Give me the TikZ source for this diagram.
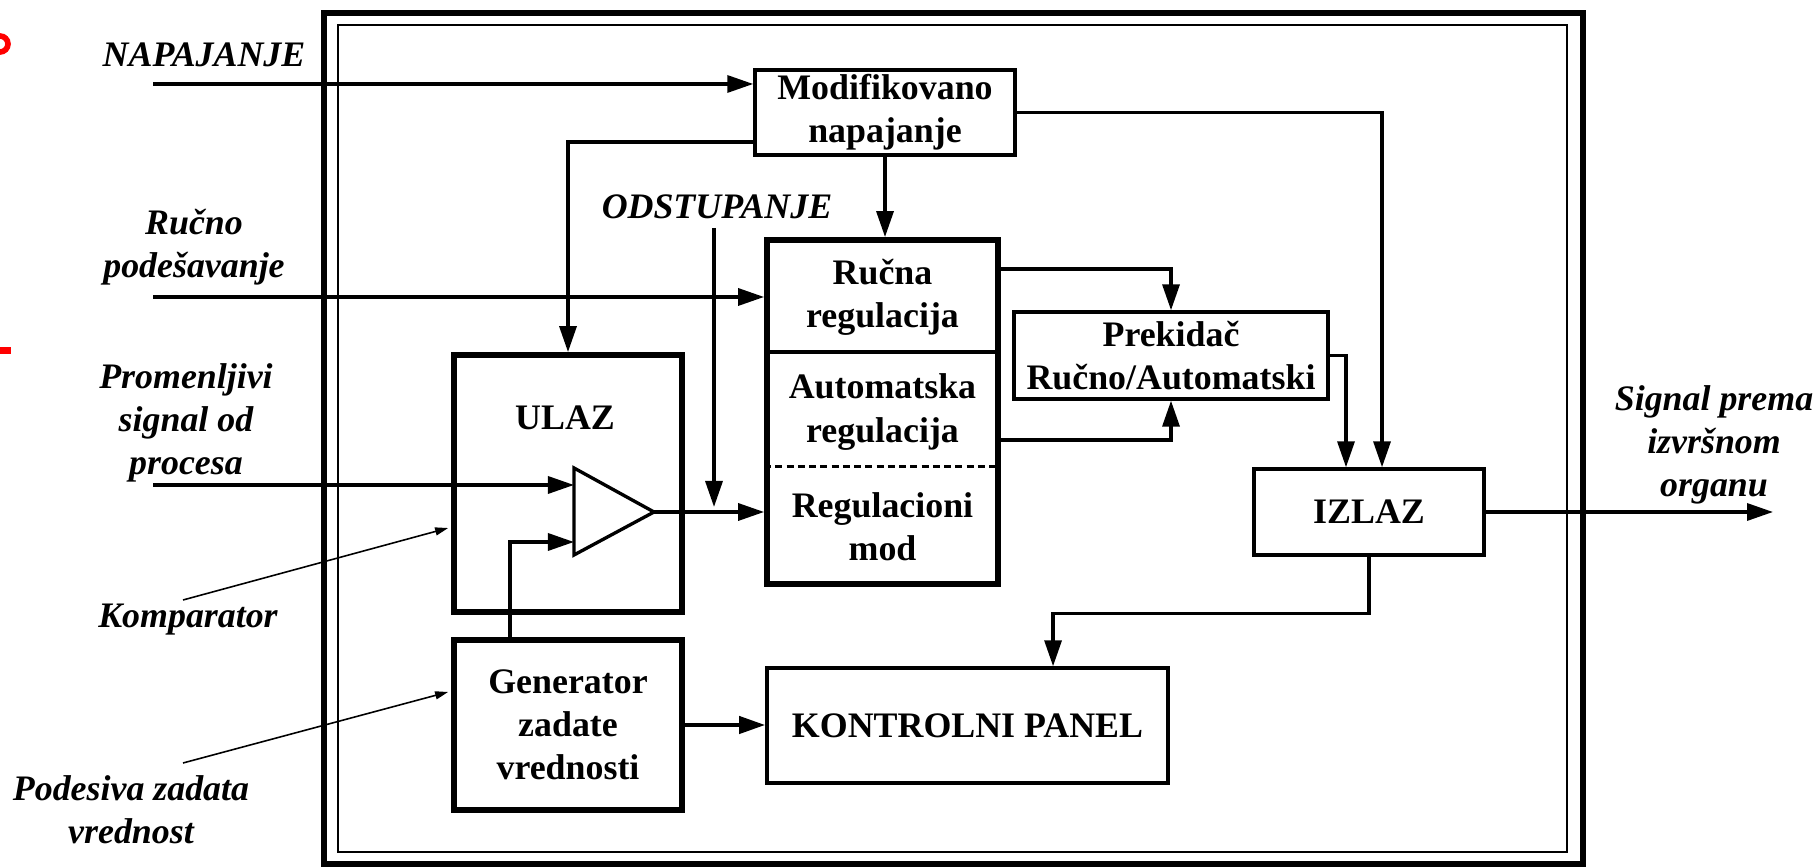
\documentclass[tikz,border=0pt]{standalone}
\usepackage{fontspec}
\setmainfont{Liberation Serif}
\usetikzlibrary{arrows.meta}
\newcommand\velicina{\fontsize{10.2pt}{12.3pt}\selectfont}

\begin{document}
\begin{tikzpicture}[x=0.01cm, y=-0.01cm,
        blok/.style={draw, line width=0.95pt, fill=white, font=\velicina\bfseries, align=center, inner sep=0pt},
        debeli/.style={blok, line width=1.6pt},
        natpis/.style={font=\velicina\bfseries, align=center, inner sep=1pt},
        oznaka/.style={font=\velicina\bfseries\itshape, align=center, inner sep=1pt},
        veza/.style={line width=0.95pt, -{Triangle[length=0.26cm, width=0.17cm]}},
        vod/.style={line width=0.95pt},
        pokazivac/.style={line width=0.45pt, -{Triangle[length=0.13cm, width=0.08cm]}}
    ]
        \useasboundingbox (0,0) rectangle (1816,868);

        % ostaci sa leve ivice
        \draw[red, line width=1.6pt] (0,44) circle[radius=0.08cm];
        \fill[red] (0,347) rectangle (11,354);

        % Okvir
        \draw[line width=1.7pt] (324,13) rectangle (1583,864);
        \draw[line width=0.4pt] (338,25) rectangle (1567,852);

        % Blokovi
        \node[blok, minimum width=2.60cm, minimum height=0.85cm] (modnap) at (885,112.5) {Modifikovano\\napajanje};
        \node[debeli, minimum width=2.31cm, minimum height=3.44cm] (reg) at (882.5,412) {};
        \node[natpis] (rucna) at (882.5,297.5) {Ručna\\regulacija};
        \node[natpis] (auto) at (882.5,412) {Automatska\\regulacija};
        \node[natpis] (regmod) at (882.5,526.5) {Regulacioni\\mod};
        \draw[vod] ([yshift=-1.15cm]reg.north west) -- ([yshift=-1.15cm]reg.north east);
        \draw[vod, dash pattern=on 2pt off 1.2pt] ([yshift=-2.29cm]reg.north west) -- ([yshift=-2.29cm]reg.north east);
        \node[debeli, minimum width=2.28cm, minimum height=2.57cm] (ulaz) at (568,483.5) {};
        \node[natpis] (ulaztxt) at (565,418) {ULAZ};
        \node[debeli, minimum width=2.28cm, minimum height=1.70cm] (gen) at (568,725) {Generator\\zadate\\vrednosti};
        \node[blok, minimum width=4.01cm, minimum height=1.15cm] (kp) at (967.5,725.5) {KONTROLNI PANEL};
        \node[blok, minimum width=3.14cm, minimum height=0.87cm] (prek) at (1171,355.5) {Prekidač\\Ručno/Automatski};
        \node[blok, minimum width=2.30cm, minimum height=0.86cm] (izlaz) at (1369,512) {IZLAZ};

        % Komparator
        \coordinate (cmpa) at (574,485);
        \coordinate (cmpb) at (574,542);
        \coordinate (cmpout) at (654,512);
        \draw[vod, line join=miter] (574,468) -- (574,555) -- (cmpout) -- cycle;

        % Oznake
        \node[oznaka] (napl) at (204,55) {NAPAJANJE};
        \node[oznaka] (rucl) at (194,247) {Ručno\\podešavanje};
        \node[oznaka] (procl) at (186,423) {Promenljivi\\signal od\\procesa};
        \node[oznaka] (kompl) at (188,620) {Komparator};
        \node[oznaka] (podl) at (131,810) {Podesiva zadata\\vrednost};
        \node[oznaka] (odstl) at (717,207) {ODSTUPANJE};
        \node[oznaka] (sigl) at (1714,445) {Signal prema\\izvršnom\\organu};

        % Ulazi i izlaz
        \coordinate (napin) at (153,84);
        \coordinate (rucin) at (153,297);
        \coordinate (procin) at (153,485);
        \coordinate (odst) at (714,228);
        \coordinate (izlazkraj) at (1773,512);
        \coordinate (ulazdovod) at (567,142);
        \coordinate (kompvod) at (183,600);
        \coordinate (podvod) at (183,763);

        % Veze
        \draw[veza] (napin) -- (napin -| modnap.west);
        \draw[veza] (rucin) -- (rucin -| reg.west);
        \draw[veza] (procin) -- (cmpa);
        \draw[veza] (modnap.west |- ulazdovod) -| (ulaz.north);
        \draw[veza] (modnap.south) -- (modnap.south |- reg.north);
        \draw[veza] (modnap.east) -| ([xshift=0.13cm]izlaz.north);
        \draw[veza] (prek.east) -| ([xshift=-0.23cm]izlaz.north);
        \draw[veza] ([yshift=-0.32cm]reg.north east) -| (prek.north);
        \draw[veza] ([yshift=-0.28cm]reg.east) -| (prek.south);
        \draw[veza] (cmpout) -- (cmpout -| reg.west);
        \draw[veza] (odst) -- ([yshift=0.05cm]cmpout -| odst);
        \draw[veza] ([xshift=-0.58cm]gen.north) |- (cmpb);
        \draw[veza, line width=1.15pt] (gen.east) -- (gen.east -| kp.west);
        \draw[veza] (izlaz.south) -- ++(0,57) -| ([xshift=0.855cm]kp.north);
        \draw[veza] (izlaz.east) -- (izlazkraj);
        \draw[pokazivac] (kompvod) -- ([xshift=-0.03cm, yshift=-0.445cm]ulaz.west);
        \draw[pokazivac] (podvod) -- ([xshift=-0.03cm, yshift=0.33cm]gen.west);

\end{tikzpicture}
\end{document}
